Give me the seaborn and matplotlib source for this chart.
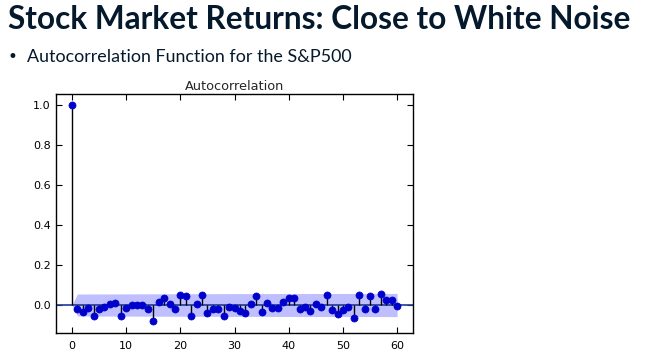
import numpy as np
import pandas as pd
import seaborn as sns
import matplotlib.pyplot as plt

# ACF values (lag 0..60)
lags = list(range(61))
acf = [1.0,
       -0.022, -0.033, -0.017, -0.053, -0.022, -0.008, 0.003, 0.012, -0.053, -0.017,
       0.0, 0.0, 0.0, -0.022, -0.080, 0.017, 0.033, 0.007, -0.022, 0.048,
       0.045, -0.053, 0.007, 0.048, -0.038, -0.022, -0.022, -0.053, -0.008, -0.017,
       -0.030, -0.038, 0.003, 0.045, -0.033, 0.012, -0.013, -0.017, 0.017, 0.033,
       0.033, -0.022, -0.008, -0.030, 0.003, -0.008, 0.048, -0.025, -0.047, -0.025,
       -0.008, -0.063, 0.048, -0.022, 0.045, -0.022, 0.057, 0.023, 0.023, -0.005]

# confidence band (half width) at a few lags
band_lags = [0, 1, 30, 60]
band_half = [0.0, 0.055, 0.057, 0.058]

df = pd.DataFrame({"lag": lags, "acf": acf})

sns.set_style("white")
plt.rcParams['font.family'] = ['DejaVu Sans']

fig = plt.figure(figsize=(6.5, 3.55), dpi=100)
fig.text(0.012, 0.945, "Stock Market Returns: Close to White Noise",
         fontsize=22.8, fontweight='bold', color='#05192d', family=['Lato', 'DejaVu Sans'],
         va='center', ha='left')
fig.text(0.012, 0.84, "\u2022", fontsize=12, color='#05192d', va='center', ha='left')
fig.text(0.042, 0.84, "Autocorrelation Function for the S&P500", fontsize=12.9,
         color='#05192d', family=['Lato', 'DejaVu Sans'], va='center', ha='left')

ax = fig.add_axes([0.0857, 0.062, 0.5503, 0.673])

bl = np.array(band_lags)
bh = np.array(band_half)
ax.fill_between(bl, -bh, bh, color='#0000ff', alpha=0.25, linewidth=0, zorder=1)
ax.axhline(0, color='#1f3a93', linewidth=1.2, zorder=2)
ax.vlines(df["lag"], 0, df["acf"], color='black', linewidth=1, zorder=3)
sns.scatterplot(data=df, x="lag", y="acf", ax=ax, color='#0000cc', s=26,
                edgecolor='#0000cc', linewidth=0.5, zorder=4)

ax.set_xlim(-3, 63)
ax.set_ylim(-0.14, 1.055)
ax.set_xticks([0, 10, 20, 30, 40, 50, 60])
ax.set_yticks([0.0, 0.2, 0.4, 0.6, 0.8, 1.0])
ax.set_xlabel("")
ax.set_ylabel("")
ax.set_title("Autocorrelation", fontsize=9.3, pad=3)
ax.tick_params(direction='in', length=4, width=0.8, labelsize=8, top=True, right=True,
               bottom=True, left=True, colors='black')
ax.tick_params(axis='x', pad=6)
for s in ax.spines.values():
    s.set_color('black')
    s.set_linewidth(1)

fig.savefig("out.png", dpi=100)
